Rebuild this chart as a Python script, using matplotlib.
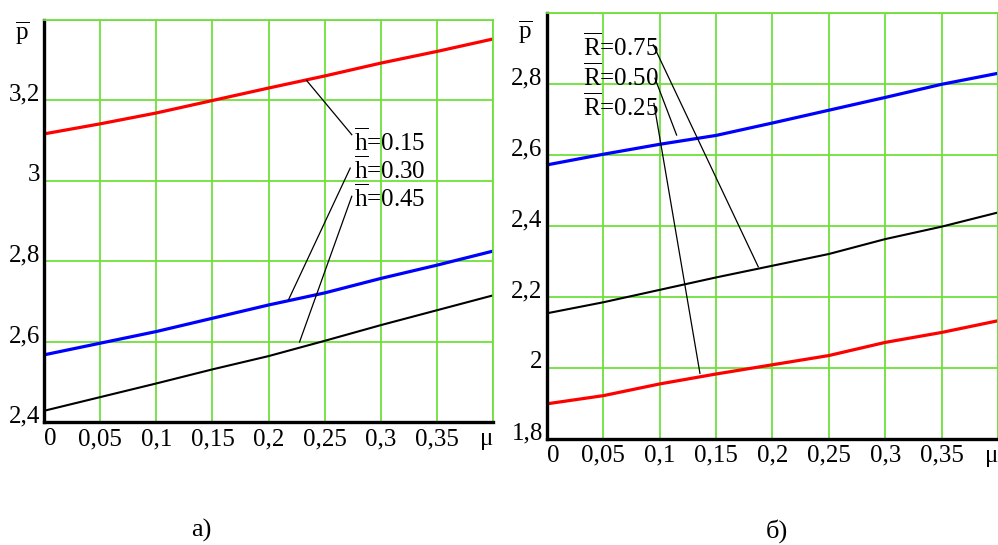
import matplotlib
matplotlib.use("Agg")
import matplotlib.pyplot as plt

plt.rcParams['font.family'] = 'Liberation Serif'
plt.rcParams['mathtext.fontset'] = 'custom'
plt.rcParams['mathtext.rm'] = 'Liberation Serif'
plt.rcParams['mathtext.it'] = 'Liberation Serif:italic'

# friction coefficient
mu = [0, 0.05, 0.10, 0.15, 0.20, 0.25, 0.30, 0.35, 0.40]
mu_labels = ['0', '0,05', '0,1', '0,15', '0,2', '0,25', '0,3', '0,35', 'μ']

# a) pressure for different h
p_h015 = [3.117, 3.142, 3.169, 3.200, 3.231, 3.261, 3.293, 3.322, 3.353]
p_h030 = [2.568, 2.597, 2.626, 2.659, 2.692, 2.722, 2.758, 2.791, 2.826]
p_h045 = [2.429, 2.463, 2.497, 2.532, 2.565, 2.603, 2.642, 2.679, 2.716]
yticks_a = [2.4, 2.6, 2.8, 3.0, 3.2, 3.4]
ylabels_a = ['2,4', '2,6', '2,8', '3', '3,2', '']

# б) pressure for different R
p_R075 = [2.155, 2.186, 2.221, 2.256, 2.289, 2.322, 2.364, 2.399, 2.439]
p_R050 = [2.573, 2.603, 2.631, 2.656, 2.691, 2.727, 2.763, 2.800, 2.831]
p_R025 = [1.900, 1.923, 1.956, 1.984, 2.010, 2.036, 2.073, 2.101, 2.134]
yticks_b = [1.8, 2.0, 2.2, 2.4, 2.6, 2.8, 3.0]
ylabels_b = ['1,8', '2', '2,2', '2,4', '2,6', '2,8', '']

GREEN = '#6ee03c'
FS = 18


def setup(ax, ylim, yticks, ylabels):
    ax.set_xlim(0, 0.4)
    ax.set_ylim(*ylim)
    ax.set_xticks(mu)
    ax.set_xticklabels(mu_labels)
    ax.set_yticks(yticks)
    ax.set_yticklabels(ylabels)
    ax.grid(True, color=GREEN, lw=1.3)
    ax.set_axisbelow(True)
    ax.tick_params(length=0, labelsize=FS)
    ax.tick_params(axis='x', pad=4)
    ax.tick_params(axis='y', pad=3)
    for t in ax.get_yticklabels():
        t.set_va('baseline')
    ax.get_xticklabels()[0].set_ha('left')
    ax.get_xticklabels()[-1].set_ha('right')
    for s in ['left', 'bottom']:
        ax.spines[s].set_linewidth(2.4)
        ax.spines[s].set_color('black')
    for s in ['top', 'right']:
        ax.spines[s].set_linewidth(1.3)
        ax.spines[s].set_color(GREEN)


fig = plt.figure(figsize=(9.98, 5.45), dpi=100)

# left panel
ax1 = fig.add_axes([0.0441, 0.2248, 0.4502, 0.7385])
setup(ax1, (2.4, 3.4), yticks_a, ylabels_a)
ax1.plot(mu, p_h015, color='#ff0000', lw=2.3)
ax1.plot(mu, p_h030, color='#0000ff', lw=2.3)
ax1.plot(mu, p_h045, color='black', lw=1.5)

ax1.plot([0.2337, 0.274], [3.25, 3.115], color='black', lw=0.9)
ax1.plot([0.2177, 0.2726], [2.705, 3.032], color='black', lw=0.9)
ax1.plot([0.2275, 0.274], [2.60, 2.962], color='black', lw=0.9)
ax1.text(0.276, 3.098, r'$\overline{\mathrm{h}}$=0.15', fontsize=FS, va='center')
ax1.text(0.276, 3.028, r'$\overline{\mathrm{h}}$=0.30', fontsize=FS, va='center')
ax1.text(0.276, 2.958, r'$\overline{\mathrm{h}}$=0.45', fontsize=FS, va='center')

# right panel
ax2 = fig.add_axes([0.548, 0.1939, 0.452, 0.7817])
setup(ax2, (1.8, 3.0), yticks_b, ylabels_b)
ax2.plot(mu, p_R050, color='#0000ff', lw=2.3)
ax2.plot(mu, p_R075, color='black', lw=1.5)
ax2.plot(mu, p_R025, color='#ff0000', lw=2.3)

ax2.plot([0.0943, 0.1874], [2.911, 2.286], color='black', lw=0.9)
ax2.plot([0.0958, 0.115], [2.817, 2.657], color='black', lw=0.9)
ax2.plot([0.0949, 0.1357], [2.746, 1.986], color='black', lw=0.9)
ax2.text(0.032, 2.906, r'$\overline{\mathrm{R}}$=0.75', fontsize=FS, va='center')
ax2.text(0.032, 2.821, r'$\overline{\mathrm{R}}$=0.50', fontsize=FS, va='center')
ax2.text(0.032, 2.737, r'$\overline{\mathrm{R}}$=0.25', fontsize=FS, va='center')

# axis names and captions
fig.text(0.0227, 0.939, r'$\overline{\mathrm{p}}$', fontsize=FS, ha='center', va='center')
fig.text(0.526, 0.941, r'$\overline{\mathrm{p}}$', fontsize=FS, ha='center', va='center')
fig.text(0.2014, 0.026, 'а)', fontsize=19, ha='center', va='center')
fig.text(0.7786, 0.026, 'б)', fontsize=19, ha='center', va='center')

fig.savefig('out.png', dpi=100)
